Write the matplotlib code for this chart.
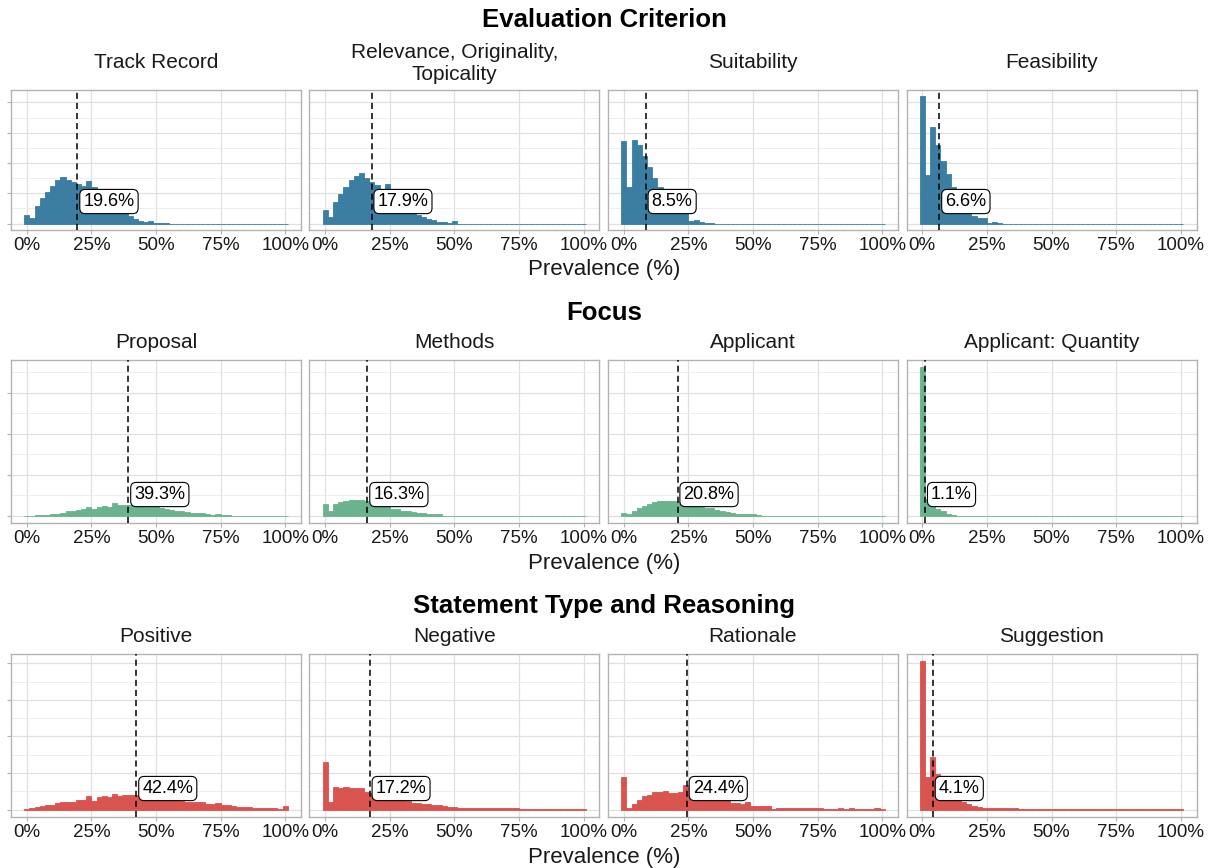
import matplotlib
matplotlib.use("Agg")
import matplotlib.pyplot as plt
from matplotlib.ticker import MultipleLocator, FixedLocator

plt.rcParams['font.family'] = ['Liberation Sans', 'DejaVu Sans']

W, H = 1215, 868

# bin centres (2% wide bins)
bins = list(range(0, 101, 2))

row_titles = ["Evaluation Criterion", "Focus", "Statement Type and Reasoning"]
row_colors = ["#3B7EA1", "#6BB38F", "#D9534F"]
panel_names = [
    ["Track Record", "Relevance, Originality,\nTopicality", "Suitability", "Feasibility"],
    ["Proposal", "Methods", "Applicant", "Applicant: Quantity"],
    ["Positive", "Negative", "Rationale", "Suggestion"],
]
medians = [
    [19.6, 17.9, 8.5, 6.6],
    [39.3, 16.3, 20.8, 1.1],
    [42.4, 17.2, 24.4, 4.1],
]

# histogram heights (one tick step = 1 unit)
track_record = [0.30, 0.17, 0.59, 0.84, 1.06, 1.25, 1.44, 1.54, 1.44, 1.39,
                1.31, 1.25, 1.41, 1.20, 1.05, 0.90, 0.78, 0.66, 0.55, 0.42,
                0.24, 0.14, 0.08, 0.05, 0.10, 0.03, 0.02, 0.01] + [0] * 23
relevance = [0.46, 0.23, 0.71, 0.97, 1.20, 1.44, 1.57, 1.66, 1.50, 1.39,
             1.29, 1.14, 1.30, 1.10, 0.95, 0.78, 0.60, 0.45, 0.27, 0.22,
             0.15, 0.12, 0.06, 0.04, 0.03, 0.10] + [0] * 25
suitability = [2.72, 1.20, 2.75, 2.58, 2.23, 1.86, 1.50, 1.20, 0.95, 0.75,
               0.60, 0.45, 0.35, 0.10, 0.13, 0.05, 0.03, 0.02] + [0] * 33
feasibility = [4.20, 1.61, 3.18, 2.58, 2.07, 1.63, 1.22, 0.90, 0.65, 0.45,
               0.26, 0.17, 0.17, 0.02, 0.07, 0.03] + [0] * 35

proposal = [0, 0, 0.005, 0.01, 0.02, 0.03, 0.04, 0.07, 0.10, 0.12,
            0.14, 0.15, 0.21, 0.17, 0.21, 0.23, 0.21, 0.30, 0.27, 0.26,
            0.27, 0.26, 0.23, 0.21, 0.22, 0.23, 0.19, 0.17, 0.14, 0.11,
            0.10, 0.09, 0.07, 0.06, 0.06, 0.03, 0.02, 0.04, 0.01, 0.01] + [0] * 11
methods = [0.28, 0.12, 0.28, 0.32, 0.35, 0.37, 0.39, 0.39, 0.36, 0.33,
           0.30, 0.28, 0.26, 0.16, 0.15, 0.12, 0.12, 0.09, 0.07, 0.06,
           0.05, 0.04, 0.03] + [0] * 28
applicant = [0.06, 0.03, 0.12, 0.19, 0.23, 0.28, 0.32, 0.35, 0.35, 0.36,
             0.35, 0.33, 0.29, 0.25, 0.23, 0.22, 0.18, 0.19, 0.14, 0.11,
             0.08, 0.06, 0.04, 0.03, 0.03, 0.04, 0.01] + [0] * 24
applicant_qty = [3.62, 0.40, 0.25, 0.16, 0.10, 0.04, 0.01] + [0] * 44

positive = [0.02, 0.045, 0.07, 0.09, 0.12, 0.12, 0.17, 0.20, 0.22, 0.22,
            0.27, 0.27, 0.38, 0.24, 0.34, 0.38, 0.34, 0.43, 0.38, 0.39,
            0.39, 0.41, 0.35, 0.30, 0.33, 0.28, 0.30, 0.26, 0.29, 0.25,
            0.24, 0.22, 0.21, 0.20, 0.22, 0.16, 0.15, 0.17, 0.13, 0.12,
            0.11, 0.06, 0.06, 0.08, 0.05, 0.03, 0.05, 0.04, 0.04, 0.02, 0.09]
negative = [1.29, 0.22, 0.61, 0.59, 0.61, 0.58, 0.58, 0.58, 0.47, 0.45,
            0.42, 0.40, 0.37, 0.34, 0.30, 0.28, 0.24, 0.18, 0.18, 0.16,
            0.16, 0.13, 0.12, 0.10, 0.08, 0.08, 0.05] + [0.03] * 11 + [0.015] * 13
rationale = [0.88, 0.03, 0.14, 0.27, 0.36, 0.40, 0.49, 0.49, 0.52, 0.45,
             0.46, 0.47, 0.68, 0.45, 0.42, 0.38, 0.40, 0.38, 0.37, 0.33,
             0.30, 0.19, 0.17, 0.16, 0.22, 0.11, 0.11, 0.10, 0.09, 0.02,
             0.05, 0.05, 0.05, 0.04, 0.03, 0.03, 0.03, 0.03, 0.03, 0.02,
             0.02, 0.01, 0.03, 0.02, 0.04, 0.01, 0.01, 0.01, 0.01, 0.03, 0.01]
suggestion = [4.05, 0.89, 1.45, 0.98, 0.60, 0.45, 0.35, 0.28, 0.22, 0.16,
              0.09, 0.07, 0.05, 0.035, 0.03, 0.03, 0.03, 0.03, 0.03] + [0.01] * 32

heights = [
    [track_record, relevance, suitability, feasibility],
    [proposal, methods, applicant, applicant_qty],
    [positive, negative, rationale, suggestion],
]

# layout in pixels
panel_lefts = [11, 309.5, 608, 906.5]
panel_w = 290
row_spans = [(90, 230), (360, 523), (654, 817)]
row_title_y = [20, 313, 606]
strip_y = [62, 343, 637]
xlab_y = [270, 563, 857]

fig = plt.figure(figsize=(W / 100, H / 100), dpi=100)

for r in range(3):
    top, bot = row_spans[r]
    ymax = max(max(h) for h in heights[r])
    col = row_colors[r]
    for c in range(4):
        left = panel_lefts[c]
        ax = fig.add_axes([left / W, 1 - bot / H, panel_w / W, (bot - top) / H])
        ax.bar(bins, heights[r][c], width=2, color=col, edgecolor=col,
               linewidth=0.6, zorder=2)
        med = medians[r][c]
        ax.axvline(med, color="black", linestyle=(0, (4, 2.6)), linewidth=1.1, zorder=3)
        ax.annotate(f"{med}%", xy=(med, 0), xycoords=ax.get_xaxis_transform(),
                    xytext=(4.3, 20.5), textcoords="offset points",
                    ha="left", va="center", fontsize=13, zorder=4,
                    bbox=dict(boxstyle="round,pad=0.2,rounding_size=0.3",
                              fc="white", ec="black", lw=0.8))
        ax.set_xlim(-6.1, 106.1)
        ax.set_ylim(-0.05 * ymax, 1.05 * ymax)
        ax.xaxis.set_major_locator(FixedLocator([0, 25, 50, 75, 100]))
        ax.set_xticklabels(["0%", "25%", "50%", "75%", "100%"])
        ax.yaxis.set_major_locator(MultipleLocator(1))
        ax.yaxis.set_minor_locator(MultipleLocator(0.5))
        ax.grid(which="major", color="#e0e0e0", linewidth=0.9)
        ax.grid(which="minor", axis="y", color="#ebebeb", linewidth=0.6)
        ax.set_axisbelow(True)
        for s in ax.spines.values():
            s.set_color("#b3b3b3")
            s.set_linewidth(1.0)
        ax.tick_params(axis="x", length=2.9, width=0.8, color="#b3b3b3",
                       labelsize=13.5, pad=2.2, labelcolor="#1a1a1a")
        ax.tick_params(axis="y", which="minor", length=0)
        if c == 0:
            ax.tick_params(axis="y", which="major", length=2.9, width=0.8,
                           color="#b3b3b3", labelleft=False)
        else:
            ax.tick_params(axis="y", which="major", length=0, labelleft=False)
        name = panel_names[r][c]
        yc = strip_y[r] + (1.5 if "\n" in name else 0)
        fig.text((left + panel_w / 2) / W, 1 - yc / H, name,
                 ha="center", va="center", fontsize=15, linespacing=1.18,
                 color="#1a1a1a")
    fig.text(604 / W, 1 - row_title_y[r] / H, row_titles[r], ha="center",
             va="center", fontsize=18.5, fontweight="bold")
    fig.text(604 / W, 1 - xlab_y[r] / H, "Prevalence (%)", ha="center",
             va="center", fontsize=16, color="#1a1a1a")

fig.savefig("out.png", dpi=100)
